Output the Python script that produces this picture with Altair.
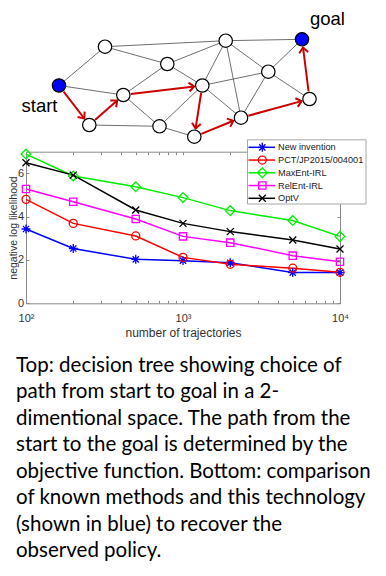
import math
import altair as alt
import pandas as pd

W, H = 370, 560
MARGIN = 8  # page margin; local = page - 8

# ---------------- top diagram (positions in page pixels) ----------------
node_names = ["start", "goal", "A", "B", "C", "D", "E", "F", "G", "H", "I", "J", "K"]
node_x = [59.0, 302.0, 105.0, 225.7, 167.3, 268.3, 123.3, 202.3, 309.5, 89.3, 159.5, 241.0, 194.3]
node_y = [85.5, 39.3, 46.7, 40.7, 64.0, 71.7, 95.0, 85.5, 99.0, 125.0, 126.3, 117.7, 136.7]
node_fill = ["#0000ff", "#0000ff"] + ["#ffffff"] * 11

edge_from = ["start", "start", "A", "A", "B", "B", "B", "B", "B", "C", "C", "D", "D", "D", "D", "E", "H", "I", "I", "F"]
edge_to = ["A", "E", "B", "C", "goal", "C", "F", "J", "D", "E", "F", "goal", "F", "J", "G", "I", "I", "F", "K", "J"]

path_nodes = ["start", "H", "E", "F", "K", "J", "G", "goal"]

label_text = ["start", "goal"]
label_x = [21.5, 310.0]
label_y = [111.5, 24.5]

# ---------------- line chart ----------------
n_traj = [100, 200, 500, 1000, 2000, 5000, 10000]
methods = ["New invention", "PCT/JP2015/004001", "MaxEnt-IRL", "RelEnt-IRL", "OptV"]
nll_new = [3.43, 2.53, 2.03, 1.97, 1.87, 1.42, 1.42]
nll_pct = [4.80, 3.69, 3.11, 2.12, 1.80, 1.62, 1.43]
nll_maxent = [6.89, 5.88, 5.38, 4.88, 4.28, 3.82, 3.09]
nll_relent = [5.28, 4.69, 3.89, 3.09, 2.80, 2.20, 1.92]
nll_optv = [6.49, 5.92, 4.31, 3.69, 3.31, 2.92, 2.51]
series = [nll_new, nll_pct, nll_maxent, nll_relent, nll_optv]
colors = ["#0000ff", "#ff0000", "#00ee00", "#ff00ff", "#000000"]
shapes = [
    "M-1,0L1,0M0,-1L0,1M-0.7,-0.7L0.7,0.7M-0.7,0.7L0.7,-0.7",
    "circle",
    "diamond",
    "square",
    "M-1,-1L1,1M-1,1L1,-1",
]
marker_size = [80, 64, 95, 53, 49]

x_major = [100, 1000, 10000]
x_major_labels = ["10\u00b2", "10\u00b3", "10\u2074"]
x_minor = [m * 10 ** e for e in (2, 3) for m in range(1, 10)] + [10000]
y_ticks = [0, 2, 4, 6]

caption_lines = [
    "Top: decision tree showing choice of",
    "path from start to goal in a 2-",
    "dimentional space. The path from the",
    "start to the goal is determined by the",
    "objective function. Bottom: comparison",
    "of known methods and this technology",
    "(shown in blue) to recover the",
    "observed policy.",
]

# ---------------- build tables ----------------
pos = dict(zip(node_names, zip(node_x, node_y)))
nodes = pd.DataFrame({"name": node_names, "x": node_x, "y": node_y, "fill": node_fill})
edges = pd.DataFrame({
    "x1": [pos[a][0] for a in edge_from], "y1": [pos[a][1] for a in edge_from],
    "x2": [pos[b][0] for b in edge_to], "y2": [pos[b][1] for b in edge_to],
})
R = 7.6
arrow_rows = []
for a, b in zip(path_nodes[:-1], path_nodes[1:]):
    (x1, y1), (x2, y2) = pos[a], pos[b]
    dx, dy = x2 - x1, y2 - y1
    L = math.hypot(dx, dy)
    ux, uy = dx / L, dy / L
    arrow_rows.append(dict(x1=x1 + ux * R, y1=y1 + uy * R,
                           x2=x2 - ux * (R + 0.6), y2=y2 - uy * (R + 0.6),
                           ang=math.degrees(math.atan2(dy, dx)) % 360))
arrows = pd.DataFrame(arrow_rows)
labels = pd.DataFrame({"text": label_text, "x": label_x, "y": label_y})

rows = []
for m, vals, c, s, sz in zip(methods, series, colors, shapes, marker_size):
    for n, v in zip(n_traj, vals):
        rows.append(dict(method=m, n=n, nll=v, col=c, shp=s, sz=sz))
perf = pd.DataFrame(rows)

legend_df = pd.DataFrame({"method": methods, "rank": list(range(len(methods))),
                          "col": colors, "shp": shapes, "sz": marker_size})
caption = pd.DataFrame({"line": list(range(len(caption_lines))), "text": caption_lines})

# ---------------- scales ----------------
dxs = alt.Scale(domain=[0, 386], range=[-MARGIN, 386 - MARGIN], nice=False, zero=False)
dys = alt.Scale(domain=[0, 576], range=[-MARGIN, 576 - MARGIN], nice=False, zero=False)

PX0, PX1 = 18.0, 332.0      # plot x range (local)
PY0, PY1 = 295.3, 143.7     # plot y range (local) for 0 and 7
xs = alt.Scale(type="log", domain=[100, 10000], range=[PX0, PX1], nice=False)
ys = alt.Scale(domain=[0, 7], range=[PY0, PY1], nice=False, zero=False)

RED = "#cc0000"
AX = "#8a8a8a"
FONT = "Liberation Sans"

# ---------------- diagram layers ----------------
edge_layer = alt.Chart(edges).mark_rule(color="#4a4a4a", strokeWidth=0.8).encode(
    x=alt.X("x1:Q", scale=dxs, axis=None), y=alt.Y("y1:Q", scale=dys, axis=None),
    x2="x2:Q", y2="y2:Q")
shaft_layer = alt.Chart(arrows).mark_rule(color=RED, strokeWidth=2).encode(
    x=alt.X("x1:Q", scale=dxs, axis=None), y=alt.Y("y1:Q", scale=dys, axis=None),
    x2="x2:Q", y2="y2:Q")
head_layer = alt.Chart(arrows).mark_point(
    shape="M-1,-0.85L0,0L-1,0.85", filled=False, color=RED, strokeWidth=2,
    size=110, opacity=1).encode(
    x=alt.X("x2:Q", scale=dxs, axis=None), y=alt.Y("y2:Q", scale=dys, axis=None),
    angle=alt.Angle("ang:Q", scale=None))
node_layer = alt.Chart(nodes).mark_point(
    shape="circle", filled=True, stroke="black", strokeWidth=1.2, size=180, opacity=1).encode(
    x=alt.X("x:Q", scale=dxs, axis=None), y=alt.Y("y:Q", scale=dys, axis=None),
    fill=alt.Fill("fill:N", scale=None))
label_layer = alt.Chart(labels).mark_text(
    align="left", baseline="alphabetic", font=FONT, fontSize=18.5, color="black").encode(
    x=alt.X("x:Q", scale=dxs, axis=None), y=alt.Y("y:Q", scale=dys, axis=None), text="text:N")
diagram = alt.layer(edge_layer, shaft_layer, head_layer, node_layer, label_layer)

# ---------------- line chart layers ----------------
main_x_axis = alt.Axis(orient="bottom", offset=-(H - PY0), values=x_major,
                       labelExpr=" : ".join(f"datum.value == {v} ? '{l}'" for v, l in zip(x_major[:-1], x_major_labels[:-1])) + f" : '{x_major_labels[-1]}'",
                       ticks=False, tickSize=0, domainColor=AX, domainWidth=1, grid=False,
                       labelFont=FONT, labelFontSize=11, labelColor="#333333",
                       labelBaseline="alphabetic", labelPadding=18.5, labelFlush=False,
                       title="number of trajectories", titleFont=FONT, titleFontSize=12,
                       titleFontWeight="normal", titleColor="#333333",
                       titleBaseline="alphabetic", titleY=33.5)
main_y_axis = alt.Axis(orient="left", offset=-PX0, values=y_ticks, format="d",
                       ticks=False, tickSize=0,
                       domainColor=AX, domainWidth=1, grid=False, labelFlush=False,
                       labelFont=FONT, labelFontSize=11, labelColor="#333333", labelPadding=2.5,
                       title="negative log likelihood", titleFont=FONT, titleFontSize=10.5,
                       titleFontWeight="normal", titleColor="#333333",
                       titleBaseline="alphabetic", titleX=-9.3)

lines = alt.Chart(perf).mark_line(strokeWidth=1.5).encode(
    x=alt.X("n:Q", scale=xs, axis=main_x_axis),
    y=alt.Y("nll:Q", scale=ys, axis=main_y_axis),
    color=alt.Color("method:N", scale=alt.Scale(domain=methods, range=colors), legend=None),
    detail="method:N")
points = alt.Chart(perf).mark_point(filled=False, strokeWidth=1.3, opacity=1).encode(
    x=alt.X("n:Q", scale=xs), y=alt.Y("nll:Q", scale=ys),
    color=alt.Color("col:N", scale=None),
    shape=alt.Shape("shp:N", scale=None),
    size=alt.Size("sz:Q", scale=None))
plot = alt.layer(lines, points)

# inward ticks at bottom/left
ticks_bl = alt.Chart(perf).mark_point(opacity=0).encode(
    x=alt.X("n:Q", scale=xs, axis=alt.Axis(orient="top", offset=-PY0, values=x_minor,
            labels=False, domain=False, ticks=True, tickSize=3, tickColor=AX, grid=False, title=None)),
    y=alt.Y("nll:Q", scale=ys, axis=alt.Axis(orient="right", offset=-(W - PX0), values=y_ticks,
            labels=False, domain=False, ticks=True, tickSize=3, tickColor=AX, grid=False, title=None)))
# box top/right with inward ticks
ticks_tr = alt.Chart(perf).mark_point(opacity=0).encode(
    x=alt.X("n:Q", scale=xs, axis=alt.Axis(orient="bottom", offset=-(H - PY1), values=x_minor,
            labels=False, domain=True, domainColor=AX, ticks=True, tickSize=3, tickColor=AX,
            grid=False, title=None)),
    y=alt.Y("nll:Q", scale=ys, axis=alt.Axis(orient="left", offset=-PX1, values=y_ticks,
            labels=False, domain=True, domainColor=AX, ticks=True, tickSize=3, tickColor=AX,
            grid=False, title=None)))

# ---------------- legend ----------------
lys = alt.Scale(domain=[0, len(methods) - 1], range=[139.3, 190.3], nice=False, zero=False)
legend_box = alt.Chart(pd.DataFrame({"k": [0]})).mark_rect(
    fill="white", stroke="#a8a8a8", strokeWidth=1).encode(
    x=alt.value(239.5), x2=alt.value(358.0), y=alt.value(131.8), y2=alt.value(196.0))
legend_lines = alt.Chart(legend_df).mark_rule(strokeWidth=1.5).encode(
    x=alt.value(240.5), x2=alt.value(267.0),
    y=alt.Y("rank:Q", scale=lys, axis=None),
    color=alt.Color("col:N", scale=None))
legend_marks = alt.Chart(legend_df).mark_point(filled=False, strokeWidth=1.3, opacity=1).encode(
    x=alt.value(254.3), y=alt.Y("rank:Q", scale=lys, axis=None),
    color=alt.Color("col:N", scale=None), shape=alt.Shape("shp:N", scale=None),
    size=alt.Size("sz:Q", scale=None))
legend_text = alt.Chart(legend_df).mark_text(
    align="left", baseline="middle", font=FONT, fontSize=9.2, color="#222222").encode(
    x=alt.value(270.0), y=alt.Y("rank:Q", scale=lys, axis=None), text="method:N")
legend = alt.layer(legend_box, legend_lines, legend_marks, legend_text)

# ---------------- caption ----------------
cys = alt.Scale(domain=[0, len(caption_lines) - 1], range=[363.7, 363.7 + 26.5 * 7], nice=False, zero=False)
caption_layer = alt.Chart(caption).mark_text(
    align="left", baseline="alphabetic", font="Lato", fontSize=20.5, color="black").encode(
    x=alt.value(8), y=alt.Y("line:Q", scale=cys, axis=None), text="text:N")

chart = alt.layer(diagram, ticks_bl, ticks_tr, plot, legend, caption_layer).resolve_scale(
    x="independent", y="independent", color="independent", shape="independent",
    size="independent", fill="independent", angle="independent"
).properties(
    width=W, height=H, padding=0, autosize=alt.AutoSizeParams(type="none")
).configure_view(stroke=None)

chart.save("out.html", embed_options={"renderer": "svg", "actions": False})
